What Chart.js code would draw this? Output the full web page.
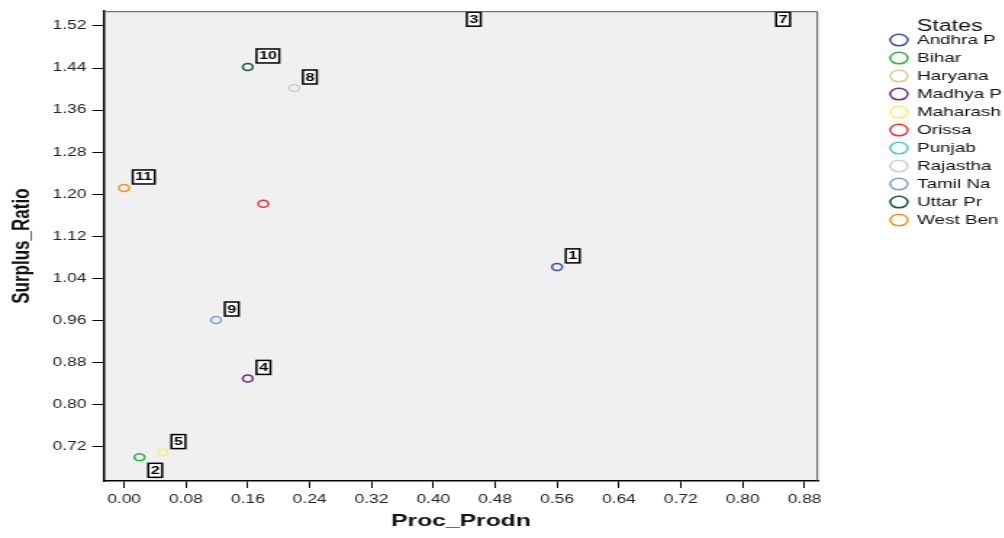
<!DOCTYPE html>
<html>
<head>
<meta charset="utf-8">
<title>Surplus_Ratio vs Proc_Prodn</title>
<script src="https://cdn.jsdelivr.net/npm/chart.js@4.4.1/dist/chart.umd.min.js"></script>
<style>
  html, body { margin: 0; padding: 0; background: #fff; overflow: hidden; }
  /* the original graphic is stretched sideways, so the chart is drawn narrow and widened */
  #wrap { position: absolute; left: 0; top: 0; width: 701px; height: 538px; transform: scaleX(1.45); transform-origin: 0 0; }
</style>
</head>
<body>
<div id="wrap"><canvas id="myChart"></canvas></div>
<script>
// data
const states = ['Andhra P', 'Bihar', 'Haryana', 'Madhya P', 'Maharash', 'Orissa', 'Punjab', 'Rajastha', 'Tamil Na', 'Uttar Pr', 'West Ben'];
const procProdn = [0.560, 0.020, 0.432, 0.160, 0.050, 0.180, 0.832, 0.220, 0.119, 0.160, 0.000];
const surplusRatio = [1.062, 0.700, 1.62, 0.850, 0.709, 1.182, 1.60, 1.402, 0.961, 1.442, 1.212];
const pointLabels = ['1', '2', '3', '4', '5', '', '7', '8', '9', '10', '11'];
const labelSide = ['up', 'down', 'up', 'up', 'up', 'up', 'up', 'up', 'up', 'up', 'up'];
const stateColors = ['#3a52a4', '#2fb540', '#d3ce9f', '#782b88', '#f6f16f', '#e8383d', '#50c8c8', '#cfcfcf', '#7ba3d4', '#17573a', '#f4921e'];

// axis ticks
const xTicks = [0.00, 0.08, 0.16, 0.24, 0.32, 0.40, 0.48, 0.56, 0.64, 0.72, 0.80, 0.88];
const yTicks = [0.72, 0.80, 0.88, 0.96, 1.04, 1.12, 1.20, 1.28, 1.36, 1.44, 1.52];

const FONT = "'Liberation Sans', Arial, sans-serif";
Chart.defaults.font.family = FONT;

// one dataset per state so every state gets a legend entry
const datasets = states.map((name, i) => ({
    label: name,
    data: [{ x: procProdn[i], y: surplusRatio[i] }],
    borderColor: stateColors[i],
    backgroundColor: 'rgba(0,0,0,0)',
    pointBackgroundColor: 'rgba(0,0,0,0)',
    pointBorderColor: stateColors[i],
    pointBorderWidth: 1.5,
    borderWidth: 1.5,
    pointRadius: 3.5,
    pointStyle: 'circle'
}));

// grey plot background and the thin top / right frame
const plotFrame = {
    id: 'plotFrame',
    beforeDraw(chart) {
        const { ctx, chartArea: a } = chart;
        ctx.save();
        ctx.fillStyle = '#f0f0f0';
        ctx.fillRect(a.left, a.top, a.right - a.left, a.bottom - a.top);
        ctx.restore();
    },
    afterDraw(chart) {
        const { ctx, chartArea: a } = chart;
        ctx.save();
        ctx.strokeStyle = '#555';
        ctx.lineWidth = 1;
        ctx.beginPath();
        ctx.moveTo(a.left, a.top + 0.5);
        ctx.lineTo(a.right - 0.5, a.top + 0.5);
        ctx.lineTo(a.right - 0.5, a.bottom);
        ctx.stroke();
        ctx.restore();
    }
};

// boxed case numbers next to the points
const pointTags = {
    id: 'pointTags',
    afterDatasetsDraw(chart) {
        const { ctx, chartArea: a } = chart;
        ctx.save();
        ctx.font = 'bold 11px ' + FONT;
        ctx.textAlign = 'center';
        ctx.textBaseline = 'middle';
        chart.data.datasets.forEach((ds, i) => {
            const tag = pointLabels[i];
            if (!tag) return;
            const pt = chart.getDatasetMeta(i).data[0];
            const w = ctx.measureText(tag).width + 3.5;
            const h = 14;
            const left = pt.x + 6;
            let cy = labelSide[i] === 'down' ? pt.y + 13 : pt.y - 11;
            cy = Math.max(cy, a.top + h / 2 + 1);
            ctx.fillStyle = '#fff';
            ctx.fillRect(left, cy - h / 2, w, h);
            ctx.strokeStyle = '#000';
            ctx.lineWidth = 1.5;
            ctx.strokeRect(left, cy - h / 2, w, h);
            ctx.fillStyle = '#000';
            ctx.fillText(tag, left + w / 2, cy + 0.5);
        });
        ctx.restore();
    }
};

const config = {
    type: 'scatter',
    data: { datasets },
    options: {
        responsive: true,
        maintainAspectRatio: false,
        animation: false,
        layout: { padding: { top: 8, right: 0, bottom: 0, left: 0 } },
        scales: {
            x: {
                type: 'linear',
                position: 'bottom',
                min: -0.026,
                max: 0.8975,
                afterBuildTicks: s => { s.ticks = xTicks.map(v => ({ value: v })); },
                afterFit: s => { s.height = 57; },
                ticks: {
                    callback: v => v.toFixed(2),
                    padding: 4,
                    color: '#222',
                    font: { size: 12 },
                    maxRotation: 0,
                    autoSkip: false
                },
                grid: { display: true, drawOnChartArea: false, drawTicks: true, tickLength: 7, color: '#000', lineWidth: 1 },
                border: { display: true, color: '#000', width: 1.5 },
                title: { display: true, text: 'Proc_Prodn', color: '#111', font: { size: 17, weight: 'bold' }, padding: { top: 0, bottom: 6.8 } }
            },
            y: {
                type: 'linear',
                position: 'left',
                min: 0.655,
                max: 1.548,
                afterBuildTicks: s => { s.ticks = yTicks.map(v => ({ value: v })); },
                afterFit: s => { s.width = 71.7; },
                ticks: {
                    callback: v => v.toFixed(2),
                    padding: 4,
                    color: '#222',
                    font: { size: 12 },
                    autoSkip: false
                },
                grid: { display: true, drawOnChartArea: false, drawTicks: true, tickLength: 8, color: '#000', lineWidth: 1 },
                border: { display: true, color: '#000', width: 1.5 },
                title: { display: true, text: 'Surplus_Ratio', color: '#111', font: { size: 17, weight: 'bold' }, padding: { top: 4.8, bottom: 0 } }
            },
            // empty strip between the plot and the legend
            gap: {
                type: 'linear',
                position: 'right',
                display: true,
                grid: { display: false, drawTicks: false },
                ticks: { display: false },
                border: { display: false },
                afterFit: s => { s.width = 44.8; }
            }
        },
        plugins: {
            legend: {
                position: 'right',
                align: 'start',
                title: {
                    display: true,
                    text: 'States',
                    color: '#111',
                    font: { size: 16, lineHeight: 0.6 },
                    padding: { top: 11, bottom: 0 }
                },
                labels: {
                    usePointStyle: true,
                    pointStyle: 'circle',
                    pointStyleWidth: 12,
                    boxHeight: 8.1,
                    padding: 5,
                    color: '#111',
                    font: { size: 13 }
                }
            },
            tooltip: { enabled: false }
        }
    },
    plugins: [plotFrame, pointTags]
};

const myChart = new Chart(document.getElementById('myChart'), config);
</script>
</body>
</html>
